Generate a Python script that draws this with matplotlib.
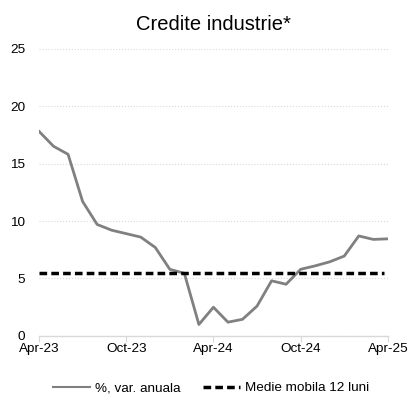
import matplotlib.pyplot as plt
import pandas as pd

plt.rcParams['font.family'] = ['Liberation Sans', 'DejaVu Sans']

months = pd.date_range('2023-04-01', '2025-04-01', freq='MS')
credit = [17.8, 16.5, 15.8, 11.7, 9.7, 9.2, 8.9, 8.6, 7.7, 5.8, 5.45, 1.0,
          2.5, 1.2, 1.45, 2.6, 4.8, 4.5, 5.8, 6.1, 6.45, 6.95, 8.7, 8.4, 8.45]
moving_avg = [5.45] * len(months)
tick_labels = ['Apr-23', 'Oct-23', 'Apr-24', 'Oct-24', 'Apr-25']

x = list(range(len(months)))

fig = plt.figure(figsize=(4.08, 3.97), dpi=100)
ax = fig.add_axes([0.0956, 0.1537, 0.855, 0.724])

ax.plot(x, credit, color='#808080', lw=2, label='%, var. anuala')
ax.plot(x[:-1] + [23.75], moving_avg, color='black', lw=2.5, ls=(0, (2.2, 1.2)),
        label='Medie mobila 12 luni')

ax.set_xlim(0, 24)
ax.set_ylim(0, 25)
ax.set_yticks([0, 5, 10, 15, 20, 25])
ax.set_xticks([0, 6, 12, 18, 24])
ax.set_xticklabels(tick_labels)
ax.yaxis.grid(True, color='#d9d9d9', ls=':', lw=0.8)
ax.set_axisbelow(True)

for s in ['top', 'right', 'left']:
    ax.spines[s].set_visible(False)
ax.spines['bottom'].set_color('#d9d9d9')
ax.spines['bottom'].set_linewidth(1)
ax.tick_params(axis='y', length=0, labelsize=9.7, pad=10)
ax.tick_params(axis='x', length=4, color='#d9d9d9', labelsize=9.7, pad=1)

ax.set_title('Credite industrie*', fontsize=14.5, pad=13)

leg = fig.legend(loc='lower center', bbox_to_anchor=(0.517, -0.024), ncol=2, frameon=False,
                 fontsize=9.7, handlelength=2.75, columnspacing=1.7, handletextpad=0.35)
leg.get_lines()[0].set_linewidth(1.5)

fig.savefig('out.png', dpi=100)
